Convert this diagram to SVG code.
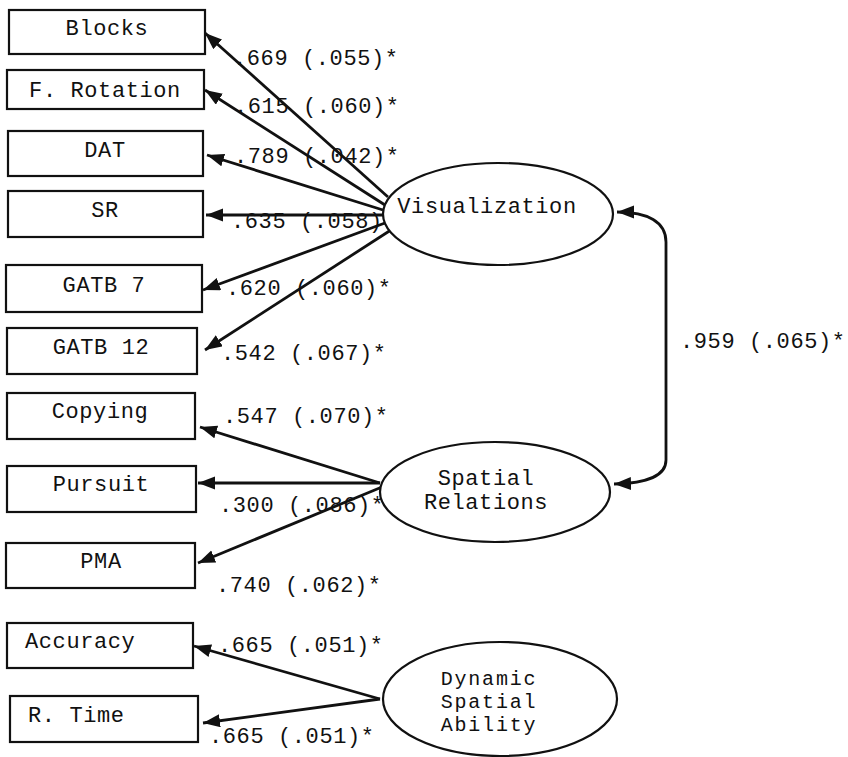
<svg xmlns="http://www.w3.org/2000/svg" width="848" height="757" viewBox="0 0 848 757">
<defs>
<style>
.box{fill:#fff;stroke:#111;stroke-width:2.2}
.ell{fill:#fff;stroke:#111;stroke-width:2.2}
.t{font-family:"Liberation Mono","DejaVu Sans Mono",monospace;font-size:22px;letter-spacing:0.6px;fill:#111}
.s{font-size:20px;letter-spacing:1.8px}
.c{text-anchor:middle}
.e{fill:none;stroke:#111;stroke-width:2.8;marker-end:url(#ah)}
.d{fill:none;stroke:#111;stroke-width:2.8;marker-end:url(#ah);marker-start:url(#ah)}
</style>
<marker id="ah" markerUnits="userSpaceOnUse" markerWidth="18" markerHeight="14" refX="17" refY="6.5" orient="auto-start-reverse">
<path d="M0,0 L17,6.5 L0,13 z" fill="#111"/>
</marker>
</defs>
<rect width="848" height="757" fill="#fff"/>
<g id="connectors">
<line class="e" x1="388" y1="197" x2="205" y2="33"/>
<line class="e" x1="385" y1="205" x2="205" y2="90"/>
<line class="e" x1="383" y1="210" x2="207" y2="155"/>
<line class="e" x1="383" y1="215" x2="206" y2="215"/>
<line class="e" x1="385" y1="223" x2="203" y2="290"/>
<line class="e" x1="394" y1="228" x2="205" y2="350"/>
<line class="e" x1="380" y1="483" x2="200" y2="427"/>
<line class="e" x1="380" y1="483" x2="198" y2="483"/>
<line class="e" x1="382" y1="487" x2="198" y2="563"/>
<line class="e" x1="380" y1="699" x2="194" y2="646"/>
<line class="e" x1="380" y1="699" x2="203" y2="723"/>
<path class="d" d="M617,212 C648,212 666,222 666,242 L666,460 C666,476 648,483 614,484"/>
<text class="t" x="233" y="65">.669 (.055)*</text>
<text class="t" x="234" y="113">.615 (.060)*</text>
<text class="t" x="234" y="163">.789 (.042)*</text>
<text class="t" x="231" y="228">.635 (.058)*</text>
<text class="t" x="226" y="295">.620 (.060)*</text>
<text class="t" x="221" y="360">.542 (.067)*</text>
<text class="t" x="223" y="423">.547 (.070)*</text>
<text class="t" x="219" y="512">.300 (.086)*</text>
<text class="t" x="216" y="592">.740 (.062)*</text>
<text class="t" x="218" y="652">.665 (.051)*</text>
<text class="t" x="209" y="743">.665 (.051)*</text>
<text class="t" x="680" y="348">.959 (.065)*</text>
</g>
<g id="blocks"><rect class="box" x="9" y="10" width="196" height="44"/><text class="t c" x="107" y="35">Blocks</text></g>
<g id="frotation"><rect class="box" x="7" y="70" width="197" height="39"/><text class="t c" x="105" y="97">F. Rotation</text></g>
<g id="dat"><rect class="box" x="8" y="131" width="195" height="45"/><text class="t c" x="105" y="157">DAT</text></g>
<g id="sr"><rect class="box" x="8" y="191" width="195" height="46"/><text class="t c" x="105" y="217">SR</text></g>
<g id="gatb7"><rect class="box" x="6" y="265" width="196" height="47"/><text class="t c" x="104" y="292">GATB 7</text></g>
<g id="gatb12"><rect class="box" x="7" y="328" width="190" height="46"/><text class="t c" x="101" y="354">GATB 12</text></g>
<g id="copying"><rect class="box" x="7" y="393" width="188" height="46"/><text class="t c" x="100" y="418">Copying</text></g>
<g id="pursuit"><rect class="box" x="7" y="466" width="189" height="46"/><text class="t c" x="101" y="491">Pursuit</text></g>
<g id="pma"><rect class="box" x="6" y="543" width="189" height="45"/><text class="t c" x="101" y="568">PMA</text></g>
<g id="accuracy"><rect class="box" x="7" y="623" width="186" height="45"/><text class="t" x="25" y="648">Accuracy</text></g>
<g id="rtime"><rect class="box" x="10" y="696" width="188" height="46"/><text class="t" x="28" y="722">R. Time</text></g>
<g id="visualization"><ellipse class="ell" cx="498" cy="214" rx="115" ry="51"/><text class="t c" x="487" y="213">Visualization</text></g>
<g id="spatial"><ellipse class="ell" cx="495" cy="492" rx="115" ry="50"/><text class="t c" x="486" y="485">Spatial</text><text class="t c" x="486" y="509">Relations</text></g>
<g id="dynamic"><ellipse class="ell" cx="500" cy="699" rx="117" ry="57"/><text class="t s c" x="489" y="685">Dynamic</text><text class="t s c" x="489" y="708">Spatial</text><text class="t s c" x="489" y="731">Ability</text></g>
</svg>
